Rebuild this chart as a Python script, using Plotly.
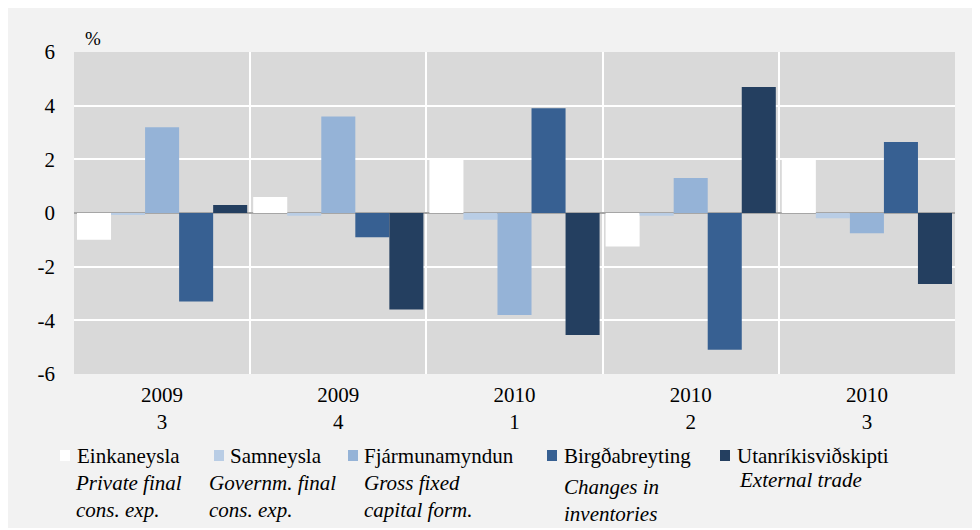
import plotly.graph_objects as go

# Quarters on the x axis
years = ["2009", "2009", "2010", "2010", "2010"]
quarters = ["3", "4", "1", "2", "3"]

# Contribution to GDP growth, %
einkaneysla = [-1.0, 0.6, 2.0, -1.25, 2.0]
samneysla = [-0.05, -0.1, -0.25, -0.1, -0.2]
fjarmunamyndun = [3.2, 3.6, -3.8, 1.3, -0.75]
birgdabreyting = [-3.3, -0.9, 3.9, -5.1, 2.65]
utanrikisvidskipti = [0.3, -3.6, -4.55, 4.7, -2.65]

series_names = ["Einkaneysla", "Samneysla", "Fjármunamyndun", "Birgðabreyting", "Utanríkisviðskipti"]
series_en = ["Private final<br>cons. exp.", "Governm. final<br>cons. exp.", "Gross fixed<br>capital form.",
             "Changes in<br>inventories", "External trade"]
series_values = [einkaneysla, samneysla, fjarmunamyndun, birgdabreyting, utanrikisvidskipti]

y_ticks = [-6, -4, -2, 0, 2, 4, 6]
y_ticktext = ["-6", "-4", "-2", "0", "2", "4", "6"]

colors = ["#ffffff", "#b9cde5", "#95b3d7", "#376092", "#243f60"]
FONT = "Liberation Serif"

# page body adds an 8px margin, so the figure sits at (8, 8) in the window
OFF = 8
W, H = 980, 520
L, R, T, B = 66, 33, 44, 154
PW, PH = W - L - R, H - T - B


def px_x(x):
    # x in window pixels -> paper fraction
    return (x - OFF - L) / PW


def px_y(y):
    return (H - B - (y - OFF)) / PH


labels = [f"{y}<br>{q}" for y, q in zip(years, quarters)]

fig = go.Figure()
for name, vals, col in zip(series_names, series_values, colors):
    fig.add_trace(go.Bar(x=labels, y=vals, name=name, marker_color=col,
                         marker_line_width=0, showlegend=False))

fig.update_layout(
    width=W, height=H,
    margin=dict(l=L, r=R, t=T, b=B),
    paper_bgcolor="#f2f2f2",
    plot_bgcolor="#d9d9d9",
    barmode="group",
    bargap=0.034,
    bargroupgap=0,
    font=dict(family=FONT, size=21, color="#000000"),
)

fig.update_xaxes(type="category", tickson="boundaries", showgrid=True, gridcolor="white", gridwidth=2,
                 ticks="", ticklabelstandoff=6, tickfont=dict(size=21), showline=False)
fig.update_yaxes(range=[-6, 6], tickvals=y_ticks, ticktext=y_ticktext, showgrid=True,
                 gridcolor="white", gridwidth=2,
                 zeroline=True, zerolinecolor="#a6a6a6", zerolinewidth=1.5,
                 ticks="", ticklabelstandoff=18, tickfont=dict(size=21), showline=False)

fig.add_annotation(text="%", xref="paper", yref="paper", x=px_x(83), y=px_y(39),
                   xanchor="left", yanchor="middle", showarrow=False, font=dict(size=19))

# legend drawn by hand
sym_x = [60, 214, 348, 547, 720]
name_x = [75, 228, 362, 562, 735]
en_x = [73, 207, 362, 562, 737]
en_y = [496, 496, 496, 500, 480]
for i, name in enumerate(series_names):
    fig.add_shape(type="rect", xref="paper", yref="paper",
                  x0=px_x(sym_x[i]), x1=px_x(sym_x[i] + 10), y0=px_y(461), y1=px_y(450),
                  fillcolor=colors[i], line_width=0)
    fig.add_annotation(text=name, xref="paper", yref="paper", x=px_x(name_x[i]), y=px_y(456),
                       xanchor="left", yanchor="middle", showarrow=False, font=dict(size=21))
    fig.add_annotation(text=f"<i>{series_en[i]}</i>", xref="paper", yref="paper",
                       x=px_x(en_x[i]), y=px_y(en_y[i]), xanchor="left", yanchor="middle",
                       align="left", showarrow=False, font=dict(size=21))

fig.write_html("out.html")
